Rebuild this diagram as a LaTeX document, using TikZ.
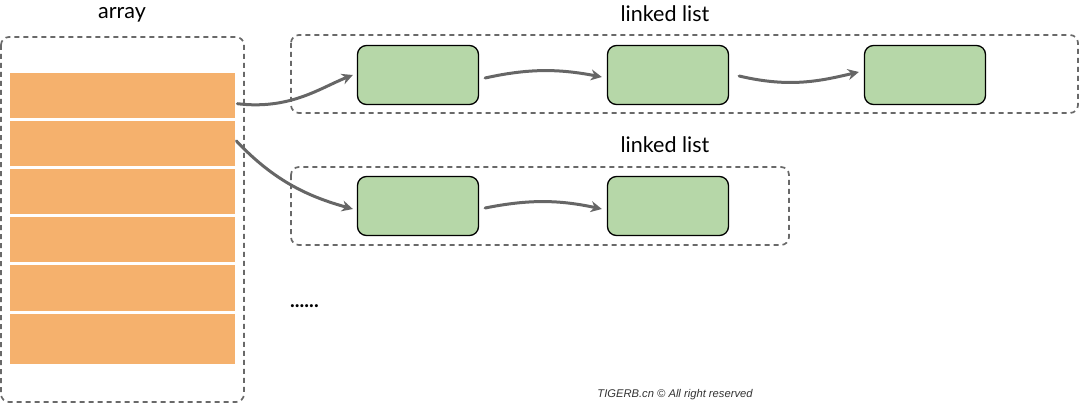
\documentclass[tikz,border=0pt]{standalone}
\usepackage{fontspec}
\setmainfont{Lato}
\newfontfamily\footfont{Liberation Sans}
\usetikzlibrary{arrows.meta}
\definecolor{orangecell}{RGB}{245,177,109}
\definecolor{greencell}{RGB}{182,215,168}
\definecolor{dashgray}{RGB}{105,105,105}
\definecolor{arrowgray}{RGB}{102,102,102}
\begin{document}
\begin{tikzpicture}[x=1pt,y=-1pt,
  dashbox/.style={draw=dashgray,line width=1.7pt,dash pattern=on 5pt off 4pt,rounded corners=8pt},
  cell/.style={fill=orangecell,draw=none,inner sep=0pt,minimum width=225pt,anchor=north west},
  item/.style={draw=black,fill=greencell,line width=1.3pt,rounded corners=9pt,minimum width=121pt,minimum height=59pt,inner sep=0pt},
  link/.style={draw=arrowgray,line width=3pt,line cap=round,-{Stealth[length=11pt,width=11pt]}},
  title/.style={font=\fontsize{21.5}{24}\selectfont,inner sep=0pt}]
\useasboundingbox (0,0) rectangle (1080,404);
% array
\node[title] (arraylbl) at (122,15) {array};
\draw[dashbox] (1,37) rectangle (244,402);
\node[cell,minimum height=45pt] (c1) at (10,73) {};
\node[cell,minimum height=45pt] (c2) at (10,121) {};
\node[cell,minimum height=45pt] (c3) at (10,169) {};
\node[cell,minimum height=45pt] (c4) at (10,217) {};
\node[cell,minimum height=46pt] (c5) at (10,265) {};
\node[cell,minimum height=50pt] (c6) at (10,314) {};
% linked list 1
\node[title] (l1lbl) at (665,14) {linked list};
\draw[dashbox] (291,35) rectangle (1078,113);
\node[item] (a1) at (418,75) {};
\node[item] (a2) at (668,75) {};
\node[item] (a3) at (925,75) {};
% linked list 2
\node[title] (l2lbl) at (665,145) {linked list};
\draw[dashbox] (291,167) rectangle (789,245);
\node[item] (b1) at (418,206) {};
\node[item] (b2) at (668,206) {};
% arrows
\draw[link] (c1.east) ++(2,8) .. controls (290,110) and (320,88) .. ([xshift=-4pt]a1.west);
\draw[link] (c2.north east) ++(1,20) .. controls (275,182) and (310,197) .. ([xshift=-4pt,yshift=-3pt]b1.west);
\draw[link] ([xshift=6pt,yshift=-3pt]a1.east) .. controls (530,68) and (560,69) .. ([xshift=-5pt,yshift=-2pt]a2.west);
\draw[link] ([xshift=10pt,yshift=-1pt]a2.east) .. controls (790,88) and (820,81) .. ([xshift=-5pt,yshift=3pt]a3.west);
\draw[link] ([xshift=6pt,yshift=-2pt]b1.east) .. controls (530,199) and (560,200) .. ([xshift=-5pt,yshift=-3pt]b2.west);
% dots and footer
\node[font=\bfseries\fontsize{20}{22}\selectfont,inner sep=0pt,anchor=west] (dots) at (290,306) {......};
\node[font=\footfont\itshape\fontsize{11.2}{12}\selectfont,text=black!80,inner sep=0pt] (foot) at (675,395) {TIGERB.cn © All right reserved};
\end{tikzpicture}
\end{document}
